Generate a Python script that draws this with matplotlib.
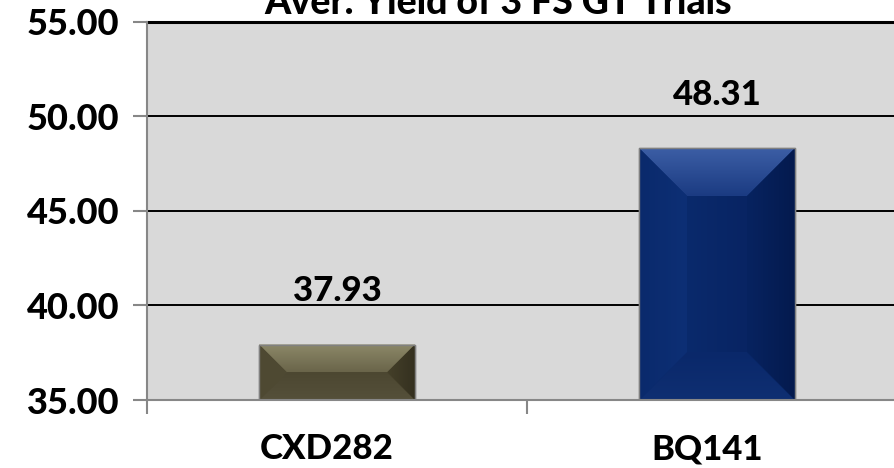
import numpy as np
import matplotlib
matplotlib.use("Agg")
import matplotlib.pyplot as plt
from matplotlib.patches import Polygon
from matplotlib.colors import to_rgb
from matplotlib.transforms import ScaledTranslation

# Chart data
categories = ["CXD282", "BQ141"]
yields = [37.93, 48.31]
value_labels = ["37.93", "48.31"]
yticks = [35, 40, 45, 50, 55]
title = "Aver. Yield of 3 FS GT Trials"

# Bevel shading for each bar: (outer, inner) colour pairs per face
styles = [
    dict(center=("#4F4A33", "#4A452F"), top=("#8C8868", "#6A654A"),
         bottom=("#55503A", "#4C4731"), left=("#4F4A33", "#4E4932"),
         right=("#34301F", "#45402A")),
    dict(center=("#0A2A6C", "#082463"), top=("#3C5EA5", "#1B3B82"),
         bottom=("#0F2F72", "#0A286A"), left=("#0A2A6C", "#0D2F75"),
         right=("#041A4E", "#072360")),
]

plt.rcParams["font.family"] = ["Lato", "DejaVu Sans"]
plt.rcParams["font.weight"] = "black"
FW = "black"

W, H = 895, 468
fig = plt.figure(figsize=(W / 100, H / 100), dpi=100)
ax = fig.add_axes([147 / W, 68 / H, (907 - 147) / W, (400 - 21.5) / H])
ax.set_facecolor("#D9D9D9")

x = np.arange(len(categories))
ax.set_xlim(-0.5, len(categories) - 0.5)
ax.set_ylim(yticks[0], yticks[-1])

# Grid lines
for yv in yticks[1:-1]:
    ax.axhline(yv, color="black", lw=1.4, zorder=1)
ax.axhline(yticks[-1], color="black", lw=2.2, zorder=1, clip_on=False)

bars = ax.bar(x, [v - yticks[0] for v in yields], bottom=yticks[0], width=0.41,
              color=[s["center"][0] for s in styles], edgecolor="#808080",
              linewidth=1.0, zorder=2)

fig.canvas.draw()
to_data = ax.transData.inverted()


def gradient_fill(poly_px, c_a, c_b, direction, start, end):
    """Fill a polygon (pixel coords) with a linear gradient from c_a to c_b."""
    pts = to_data.transform(poly_px)
    poly = Polygon(pts, closed=True, facecolor="none", edgecolor="none",
                   transform=ax.transData)
    ax.add_patch(poly)
    n = 64
    t = np.linspace(0, 1, n)
    ca, cb = np.array(to_rgb(c_a)), np.array(to_rgb(c_b))
    cols = ca[None, :] * (1 - t[:, None]) + cb[None, :] * t[:, None]
    xs, ys = pts[:, 0], pts[:, 1]
    if direction == "v":
        img = cols[:, None, :]
        y_start = to_data.transform((0, start))[1]
        y_end = to_data.transform((0, end))[1]
        ext = (xs.min(), xs.max(), y_start, y_end)
    else:
        img = cols[None, :, :]
        x_start = to_data.transform((start, 0))[0]
        x_end = to_data.transform((end, 0))[0]
        ext = (x_start, x_end, ys.min(), ys.max())
    im = ax.imshow(img, extent=ext, origin="lower", aspect="auto",
                   interpolation="bilinear", zorder=3)
    im.set_clip_path(poly)


for bar, st in zip(bars, styles):
    (L, B) = ax.transData.transform((bar.get_x(), bar.get_y()))
    (R, T) = ax.transData.transform((bar.get_x() + bar.get_width(),
                                     bar.get_y() + bar.get_height()))
    b = min(48, (T - B) / 2, (R - L) / 2)
    l, r, bt, t = L + b, R - b, B + b, T - b
    gradient_fill([(L, T), (R, T), (r, t), (l, t)], *st["top"], "v", T, t)
    gradient_fill([(L, B), (R, B), (r, bt), (l, bt)], *st["bottom"], "v", B, bt)
    gradient_fill([(L, B), (L, T), (l, t), (l, bt)], *st["left"], "h", L, l)
    gradient_fill([(R, B), (R, T), (r, t), (r, bt)], *st["right"], "h", R, r)
    gradient_fill([(l, bt), (r, bt), (r, t), (l, t)], *st["center"], "h", l, r)
    outline = Polygon(to_data.transform([(L, B), (R, B), (R, T), (L, T)]),
                      closed=True, facecolor="none", edgecolor="#808080",
                      lw=1.0, zorder=4)
    ax.add_patch(outline)

ax.set_xlim(-0.5, len(categories) - 0.5)
ax.set_ylim(yticks[0], yticks[-1])

# Value labels above bars
for xi, v, lab in zip(x, yields, value_labels):
    ax.annotate(lab, (xi, v), xytext=(0, 31), textcoords="offset points",
                ha="center", va="baseline", fontsize=25, fontweight=FW,
                color="black", zorder=5)

# Axes styling
for side in ("top", "right"):
    ax.spines[side].set_visible(False)
for side in ("left", "bottom"):
    ax.spines[side].set_color("#878787")
    ax.spines[side].set_linewidth(1.5)
    ax.spines[side].set_zorder(6)

ax.set_yticks(yticks)
ax.set_yticklabels([f"{v:.2f}" for v in yticks], fontsize=26, fontweight=FW)
ax.tick_params(axis="y", direction="out", length=10, width=1.5,
               color="#878787", pad=10)

ax.set_xticks(x)
ax.set_xticklabels(categories, fontsize=25, fontweight=FW)
ax.tick_params(axis="x", which="major", length=0, pad=24)
ax.set_xticks([-0.5, 0.5, 1.5], minor=True)
ax.tick_params(axis="x", which="minor", direction="out", length=10, width=1.5,
               color="#878787")
shift = ScaledTranslation(-10 / 100, 0, fig.dpi_scale_trans)
for lbl in ax.get_xticklabels():
    lbl.set_transform(lbl.get_transform() + shift)

fig.text(498 / W, 1 - 14 / H, title, ha="center", va="baseline",
         fontsize=27, fontweight=FW)

fig.savefig("out.png", dpi=100, facecolor="white")
